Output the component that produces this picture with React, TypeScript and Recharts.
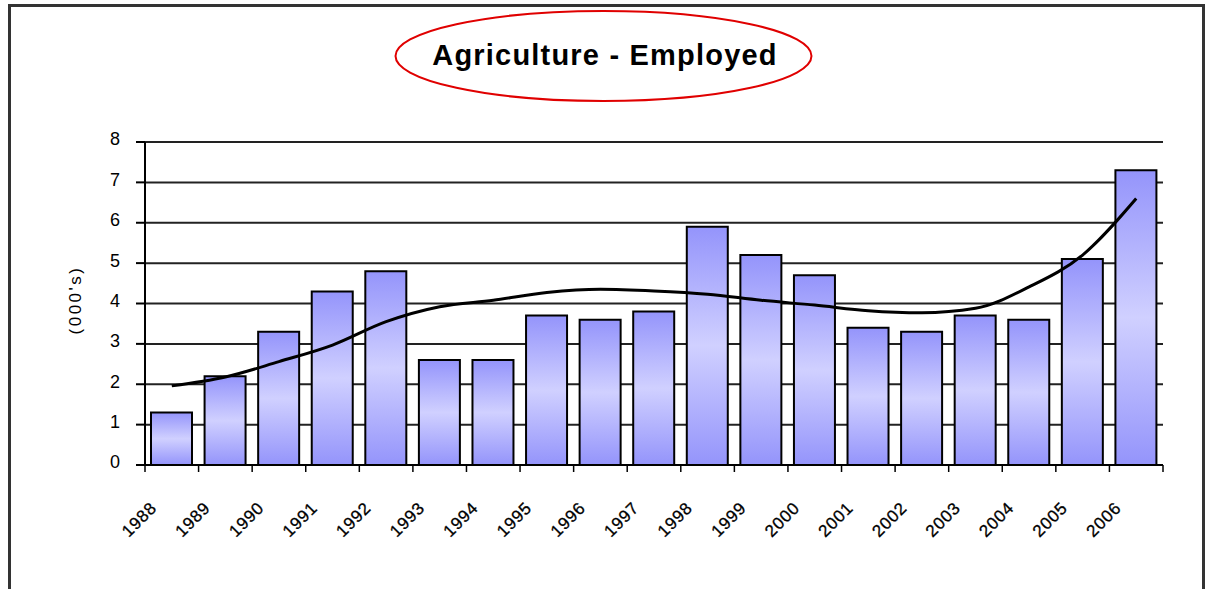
import React from 'react';
import { ComposedChart, Bar, Line, XAxis, YAxis, CartesianGrid } from 'recharts';

const years = ['1988', '1989', '1990', '1991', '1992', '1993', '1994', '1995', '1996', '1997', '1998', '1999', '2000', '2001', '2002', '2003', '2004', '2005', '2006'];
const employed = [1.3, 2.2, 3.3, 4.3, 4.8, 2.6, 2.6, 3.7, 3.6, 3.8, 5.9, 5.2, 4.7, 3.4, 3.3, 3.7, 3.6, 5.1, 7.3];
const trend = [1.96, 2.18, 2.56, 2.97, 3.55, 3.92, 4.08, 4.27, 4.35, 4.31, 4.23, 4.08, 3.96, 3.82, 3.77, 3.88, 4.41, 5.2, 6.6];
const yTicks = [0, 1, 2, 3, 4, 5, 6, 7, 8];
const title = 'Agriculture - Employed';
const yLabel = "(000's)";

const data = years.map((y, i) => ({ year: y, employed: employed[i], trend: trend[i] }));

const FONT = '"Liberation Sans", Arial, sans-serif';

const XTick = (props: any) => {
  const { x, y, payload, index, visibleTicksCount } = props;
  const half = payload && payload.offset ? payload.offset : 26.8;
  const last = index === (visibleTicksCount ?? years.length) - 1;
  const ax = x - 14;
  const ay = y + 44;
  return (
    <g>
      <line x1={x - half} y1={y} x2={x - half} y2={y + 7} stroke="#000" strokeWidth={1.5} />
      {last && <line x1={x + half} y1={y} x2={x + half} y2={y + 7} stroke="#000" strokeWidth={1.5} />}
      <text
        x={ax}
        y={ay}
        textAnchor="end"
        transform={`rotate(-45, ${ax}, ${ay})`}
        fontFamily={FONT}
        fontSize={17}
        letterSpacing={0.8}
        fill="#000"
        stroke="#000"
        strokeWidth={0.3}
      >
        {payload.value}
      </text>
    </g>
  );
};

const YTick = (props: any) => {
  const { x, y, payload } = props;
  return (
    <text x={x} y={y - 3} dy="0.355em" textAnchor="end" fontFamily={FONT} fontSize={18} fill="#000">
      {payload.value}
    </text>
  );
};

export default function App() {
  return (
    <div style={{ position: 'absolute', left: 0, top: 0, width: 1207, height: 589, background: '#fff' }}>
      <div
        style={{
          position: 'absolute',
          left: 8,
          top: 4,
          width: 1191,
          height: 582,
          borderLeft: '3px solid #333',
          borderTop: '3px solid #333',
          borderRight: '3px solid #333',
          borderBottom: '1px solid #ccc',
        }}
      />
      <div style={{ position: 'absolute', left: 0, top: 0 }}>
        <ComposedChart
          width={1207}
          height={589}
          data={data}
          margin={{ top: 142, right: 44, bottom: 24, left: 85 }}
          barSize={41}
        >
          <defs>
            <linearGradient id="barGrad" x1="0" y1="0" x2="0" y2="1">
              <stop offset="0%" stopColor="#9494fb" />
              <stop offset="50%" stopColor="#d0d0ff" />
              <stop offset="100%" stopColor="#9494fb" />
            </linearGradient>
          </defs>
          <CartesianGrid vertical={false} stroke="#222" strokeWidth={2} />
          <XAxis
            dataKey="year"
            height={100}
            tickLine={false}
            tickSize={0}
            tickMargin={0}
            interval={0}
            axisLine={{ stroke: '#000', strokeWidth: 2 }}
            tick={<XTick />}
          />
          <YAxis
            width={60}
            domain={[0, 8]}
            ticks={yTicks}
            interval={0}
            tickSize={9}
            tickMargin={16}
            axisLine={{ stroke: '#000', strokeWidth: 2 }}
            tickLine={{ stroke: '#000', strokeWidth: 2 }}
            tick={<YTick />}
          />
          <Bar dataKey="employed" fill="url(#barGrad)" stroke="#000" strokeWidth={2} isAnimationActive={false} />
          <Line
            dataKey="trend"
            type="monotone"
            stroke="#000"
            strokeWidth={3}
            dot={false}
            activeDot={false}
            isAnimationActive={false}
          />
        </ComposedChart>
      </div>
      <svg width={1207} height={589} style={{ position: 'absolute', left: 0, top: 0, pointerEvents: 'none' }}>
        <ellipse cx={603.5} cy={56} rx={208} ry={45} fill="none" stroke="#e00000" strokeWidth={2} />
        <text x={605} y={65} textAnchor="middle" fontFamily={FONT} fontWeight="bold" fontSize={29} letterSpacing={1.2} fill="#000">
          {title}
        </text>
        <text
          x={75}
          y={300}
          textAnchor="middle"
          dominantBaseline="central"
          transform="rotate(-90, 75, 300)"
          fontFamily={FONT}
          fontSize={17}
          letterSpacing={2.5}
          fill="#000"
        >
          {yLabel}
        </text>
      </svg>
    </div>
  );
}
